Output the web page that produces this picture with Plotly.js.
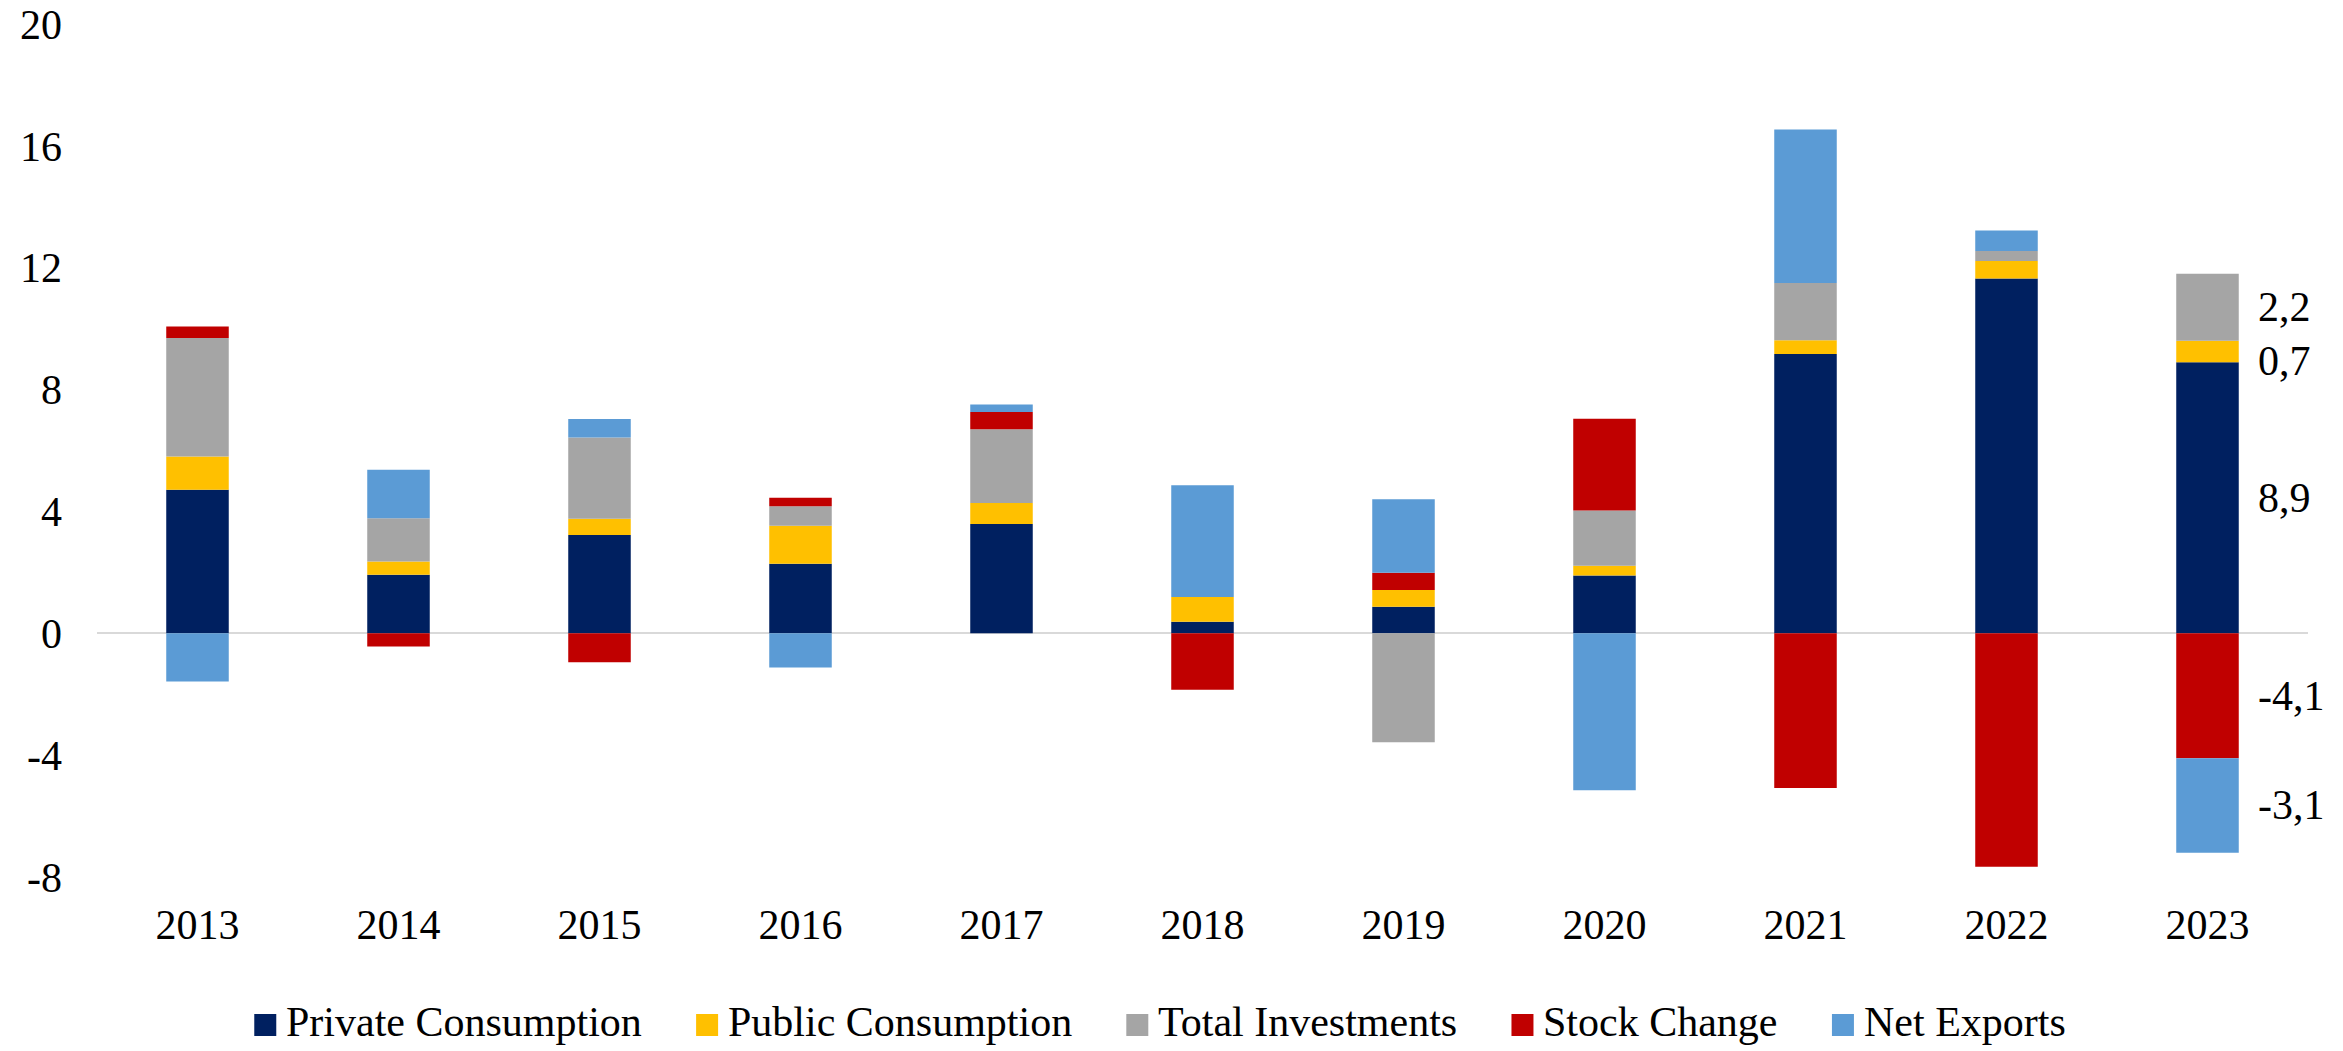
<!DOCTYPE html>
<html>
<head>
<meta charset="utf-8">
<script src="https://cdn.plot.ly/plotly-3.0.1.min.js"></script>
<style>
  html, body { margin: 0; padding: 0; background: #fff; }
  #chart { width: 2343px; height: 1051px; }
</style>
</head>
<body>
<div id="chart"></div>
<script>
// ---- data (percentage-point contributions) ----
const years = ['2013', '2014', '2015', '2016', '2017', '2018', '2019', '2020', '2021', '2022', '2023'];
const privateConsumption = [4.71, 1.92, 3.23, 2.28, 3.59, 0.38, 0.87, 1.90, 9.17, 11.65, 8.9];
const publicConsumption  = [1.09, 0.44, 0.53, 1.25, 0.69, 0.81, 0.55, 0.32, 0.45, 0.57, 0.7];
const totalInvestments   = [3.89, 1.42, 2.67, 0.64, 2.42, 0.00, -3.58, 1.81, 1.88, 0.33, 2.2];
const stockChange        = [0.38, -0.43, -0.95, 0.28, 0.56, -1.85, 0.57, 3.01, -5.08, -7.66, -4.1];
const netExports         = [-1.58, 1.59, 0.60, -1.12, 0.25, 3.67, 2.41, -5.15, 5.04, 0.67, -3.1];

const seriesNames = ['Private Consumption', 'Public Consumption', 'Total Investments', 'Stock Change', 'Net Exports'];
const yTickVals = [-8, -4, 0, 4, 8, 12, 16, 20];
const yTickText = ['-8', '-4', '0', '4', '8', '12', '16', '20'];

const seriesValues = [privateConsumption, publicConsumption, totalInvestments, stockChange, netExports];
const colors = ['#002060', '#FFC000', '#A5A5A5', '#C00000', '#5B9BD5'];

const FONT = 'Liberation Serif, Times New Roman, serif';
const FS = 42;

// plot-area geometry (pixels)
const W = 2343, H = 1051;
const M = { l: 97, r: 35, t: 24, b: 174 };
const PW = W - M.l - M.r, PH = H - M.t - M.b;
const toPaperX = px => (px - M.l) / PW;
const toPaperY = py => (H - M.b - py) / PH;

const traces = seriesValues.map((vals, i) => ({
  type: 'bar',
  name: seriesNames[i],
  x: years,
  y: vals,
  showlegend: false,
  marker: { color: colors[i], line: { width: 0 } },
  hovertemplate: '%{x}: %{y}<extra>' + seriesNames[i] + '</extra>'
}));

// data labels for the last year, placed at the middle of each stacked segment
const lastIdx = years.length - 1;
const annotations = [];
const shapes = [];
let posBase = 0, negBase = 0;
seriesValues.forEach((vals, i) => {
  const v = vals[lastIdx];
  if (v === 0) return;
  let mid;
  if (v > 0) { mid = posBase + v / 2; posBase += v; }
  else { mid = negBase + v / 2; negBase += v; }
  annotations.push({
    x: lastIdx, y: mid, xref: 'x', yref: 'y',
    text: v.toFixed(1).replace('.', ','),
    showarrow: false, xanchor: 'left', yanchor: 'middle',
    xshift: 48, yshift: (i === 1 ? -10 : 0),
    font: { family: FONT, size: FS, color: '#000' }
  });
});

// legend (drawn as squares + text so the symbol size matches the original)
const ctx = document.createElement('canvas').getContext('2d');
ctx.font = FS + 'px "Liberation Serif"';
const SQ = 22, SQ_GAP = 10, ITEM_GAP = 54;
const textW = seriesNames.map(n => ctx.measureText(n).width);
const totalW = textW.reduce((a, w) => a + SQ + SQ_GAP + w, 0) + ITEM_GAP * (seriesNames.length - 1);
const legendCenterX = 1160, legendSqY = 1025, legendTextY = 1022;
let cx = legendCenterX - totalW / 2;
seriesNames.forEach((name, i) => {
  shapes.push({
    type: 'rect', xref: 'paper', yref: 'paper',
    x0: toPaperX(cx), x1: toPaperX(cx + SQ),
    y0: toPaperY(legendSqY + SQ / 2), y1: toPaperY(legendSqY - SQ / 2),
    fillcolor: colors[i], line: { width: 0 }
  });
  annotations.push({
    xref: 'paper', yref: 'paper',
    x: toPaperX(cx + SQ + SQ_GAP - 2), y: toPaperY(legendTextY),
    text: name, showarrow: false, xanchor: 'left', yanchor: 'middle',
    font: { family: FONT, size: FS, color: '#000' }
  });
  cx += SQ + SQ_GAP + textW[i] + ITEM_GAP;
});

const layout = {
  width: W, height: H,
  margin: M,
  paper_bgcolor: '#fff', plot_bgcolor: '#fff',
  barmode: 'relative',
  bargap: 0.689,
  font: { family: FONT, size: FS, color: '#000' },
  showlegend: false,
  xaxis: {
    type: 'category',
    range: [-0.5, years.length - 0.5],
    showgrid: false, showline: false, zeroline: false,
    ticks: '', ticklabelstandoff: 19,
    tickfont: { family: FONT, size: FS, color: '#000' }
  },
  yaxis: {
    range: [-8, 20],
    tickmode: 'array', tickvals: yTickVals, ticktext: yTickText,
    showgrid: false, showline: false,
    zeroline: true, zerolinecolor: '#D9D9D9', zerolinewidth: 2,
    layer: 'above traces',
    ticks: '', ticklabelstandoff: 34,
    tickfont: { family: FONT, size: FS, color: '#000' }
  },
  shapes: shapes,
  annotations: annotations
};

Plotly.newPlot('chart', traces, layout, { displayModeBar: false, staticPlot: true });
</script>
</body>
</html>
